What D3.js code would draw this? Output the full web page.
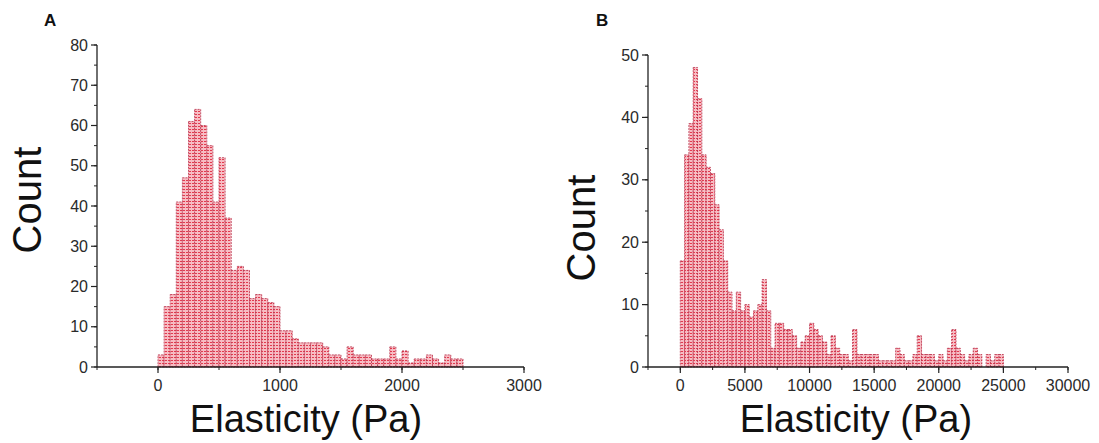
<!DOCTYPE html>
<html>
<head>
<meta charset="utf-8">
<script src="https://cdn.jsdelivr.net/npm/d3@7/dist/d3.min.js"></script>
<style>
  html, body { margin: 0; padding: 0; background: #fff; }
  svg { display: block; font-family: "Liberation Sans", Arial, sans-serif; }
</style>
</head>
<body>
<svg id="chart" width="1099" height="443"></svg>
<script>
// Histogram A: elasticity counts in 50 Pa bins starting at 0 Pa
const binWidthA = 50;
const countsA = [
  3, 15, 18, 41, 47, 61, 64, 60, 55, 41,
  52, 37, 24, 25, 24, 17, 18, 17, 16, 15,
  9, 9, 7, 6, 6, 6, 6, 5, 3, 3,
  2, 5, 3, 3, 3, 2, 2, 2, 5, 2,
  4, 1, 2, 2, 3, 2, 1, 3, 2, 2
];
const xTicksA = [0, 1000, 2000, 3000];
const yTicksA = [0, 10, 20, 30, 40, 50, 60, 70, 80];

// Histogram B: elasticity counts in 333.3 Pa bins (75 bins up to 25000 Pa)
const binWidthB = 25000 / 75;
const countsB = [
  17, 34, 39, 48, 43, 34, 32, 31, 26, 22,
  17, 12, 9, 12, 9, 10, 8, 9, 10, 14,
  9, 3, 7, 7, 6, 6, 5, 3, 4, 5,
  7, 6, 5, 4, 2, 5, 3, 2, 2, 1,
  6, 2, 2, 2, 2, 2, 1, 1, 1, 1,
  3, 2, 1, 1, 2, 5, 2, 2, 2, 1,
  2, 1, 3, 6, 3, 2, 1, 2, 3, 2,
  0, 2, 1, 2, 2
];
const xTicksB = [0, 5000, 10000, 15000, 20000, 25000, 30000];
const yTicksB = [0, 10, 20, 30, 40, 50];

const svg = d3.select("#chart");

// hatched red fill used by the bars
const defs = svg.append("defs");
const pat = defs.append("pattern")
  .attr("id", "hatch")
  .attr("patternUnits", "userSpaceOnUse")
  .attr("width", 3).attr("height", 3);
pat.append("rect").attr("width", 3).attr("height", 3).attr("fill", "#f7bcc3");
pat.append("path").attr("d", "M0,0.5H3").attr("stroke", "#e23a4f").attr("stroke-width", 1)
  .attr("stroke-dasharray", "2,1");

function panel(opt) {
  const x = d3.scaleLinear().domain(opt.xDomain).range(opt.xRange);
  const y = d3.scaleLinear().domain(opt.yDomain).range(opt.yRange);
  const g = svg.append("g");

  const bins = opt.counts.map((c, i) => ({ x0: i * opt.binWidth, x1: (i + 1) * opt.binWidth, c }));
  g.append("g").selectAll("rect")
    .data(bins.filter(d => d.c > 0))
    .join("rect")
    .attr("x", d => x(d.x0))
    .attr("width", d => x(d.x1) - x(d.x0))
    .attr("y", d => y(d.c))
    .attr("height", d => y(0) - y(d.c))
    .attr("fill", "url(#hatch)")
    .attr("stroke", "#b8304a")
    .attr("stroke-width", 0.8)
    .attr("stroke-dasharray", "2,1");

  // x axis with minor ticks halfway between labelled ones
  const xMinor = d3.range(opt.xDomain[0], opt.xDomain[1] + 1, opt.xMinorStep);
  const xAxisG = g.append("g").attr("transform", `translate(0,${y(0)})`);
  xAxisG.append("line").attr("x1", opt.xRange[0]).attr("x2", opt.xRange[1])
    .attr("stroke", "#222").attr("stroke-width", 1.3);
  xAxisG.selectAll("line.minor").data(xMinor).join("line").attr("class", "minor")
    .attr("x1", d => x(d)).attr("x2", d => x(d)).attr("y1", 0).attr("y2", 3)
    .attr("stroke", "#222").attr("stroke-width", 1);
  xAxisG.selectAll("line.major").data(opt.xTicks).join("line").attr("class", "major")
    .attr("x1", d => x(d)).attr("x2", d => x(d)).attr("y1", 0).attr("y2", 6)
    .attr("stroke", "#222").attr("stroke-width", 1.2);
  xAxisG.selectAll("text").data(opt.xTicks).join("text")
    .attr("x", d => x(d)).attr("y", 24)
    .attr("text-anchor", "middle")
    .attr("font-size", 16).attr("fill", "#2a2a2a")
    .text(d => d);

  // y axis
  const yMinor = d3.range(opt.yDomain[0], opt.yDomain[1] + 1, 5);
  const yAxisG = g.append("g").attr("transform", `translate(${opt.xRange[0]},0)`);
  yAxisG.append("line").attr("y1", y(opt.yDomain[0])).attr("y2", y(opt.yDomain[1]))
    .attr("stroke", "#222").attr("stroke-width", 1.3);
  yAxisG.selectAll("line.minor").data(yMinor).join("line").attr("class", "minor")
    .attr("y1", d => y(d)).attr("y2", d => y(d)).attr("x1", 0).attr("x2", -3)
    .attr("stroke", "#222").attr("stroke-width", 1);
  yAxisG.selectAll("line.major").data(opt.yTicks).join("line").attr("class", "major")
    .attr("y1", d => y(d)).attr("y2", d => y(d)).attr("x1", 0).attr("x2", -6)
    .attr("stroke", "#222").attr("stroke-width", 1.2);
  yAxisG.selectAll("text").data(opt.yTicks).join("text")
    .attr("x", -9).attr("y", d => y(d)).attr("dy", "0.35em")
    .attr("text-anchor", "end")
    .attr("font-size", 16).attr("fill", "#2a2a2a")
    .text(d => d);

  // titles
  g.append("text")
    .attr("transform", `translate(${opt.yTitlePos[0]},${opt.yTitlePos[1]}) rotate(-90)`)
    .attr("text-anchor", "middle")
    .attr("font-size", 40).attr("fill", "#111")
    .text("Count");
  g.append("text")
    .attr("x", opt.xTitlePos[0]).attr("y", opt.xTitlePos[1])
    .attr("text-anchor", "middle")
    .attr("font-size", 38).attr("fill", "#111")
    .text("Elasticity (Pa)");
  g.append("text")
    .attr("x", opt.letterPos[0]).attr("y", opt.letterPos[1])
    .attr("font-size", 17).attr("font-weight", "bold").attr("fill", "#111")
    .text(opt.letter);
}

panel({
  counts: countsA, binWidth: binWidthA,
  xDomain: [-500, 3000], xRange: [97, 524], xTicks: xTicksA, xMinorStep: 500,
  yDomain: [0, 80], yRange: [367, 45], yTicks: yTicksA,
  yTitlePos: [41, 200], xTitlePos: [306, 432], letterPos: [44, 26], letter: "A"
});

panel({
  counts: countsB, binWidth: binWidthB,
  xDomain: [-2500, 30000], xRange: [648, 1068], xTicks: xTicksB, xMinorStep: 2500,
  yDomain: [0, 50], yRange: [367, 55], yTicks: yTicksB,
  yTitlePos: [595, 228], xTitlePos: [856, 432], letterPos: [596, 26], letter: "B"
});
</script>
</body>
</html>
